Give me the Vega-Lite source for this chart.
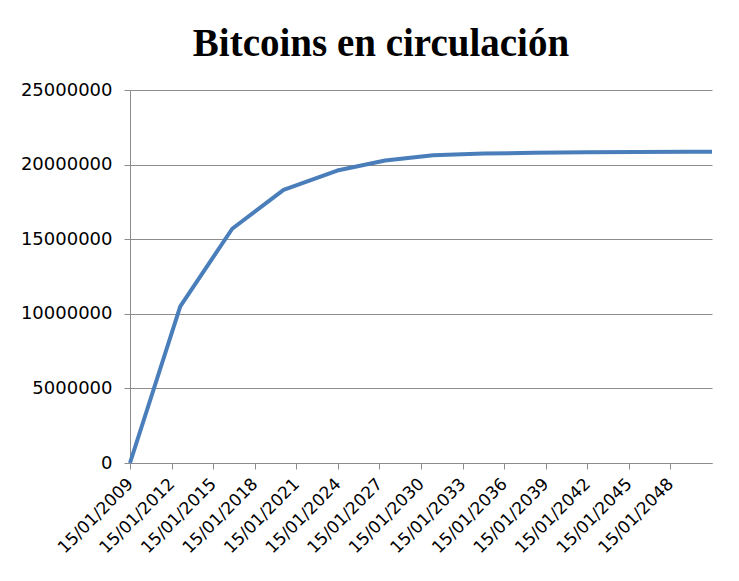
{
  "$schema": "https://vega.github.io/schema/vega-lite/v6.json",
  "width": 582,
  "height": 373,
  "autosize": "none",
  "padding": {"left": 130, "top": 90, "right": 27, "bottom": 118},
  "background": "white",
  "title": {
    "text": "Bitcoins en circulación",
    "font": "Liberation Serif",
    "fontSize": 39,
    "fontWeight": "bold",
    "color": "#000000",
    "anchor": "middle",
    "dx": -40,
    "offset": 17
  },
  "data": {
    "values": [
      {"fecha": "2009-01-15", "btc": 0},
      {"fecha": "2012-09-01", "btc": 10500000},
      {"fecha": "2016-06-01", "btc": 15700000},
      {"fecha": "2020-02-15", "btc": 18300000},
      {"fecha": "2024-01-01", "btc": 19600000},
      {"fecha": "2027-06-15", "btc": 20270000},
      {"fecha": "2030-12-01", "btc": 20620000},
      {"fecha": "2034-08-01", "btc": 20740000},
      {"fecha": "2038-04-01", "btc": 20790000},
      {"fecha": "2042-01-01", "btc": 20820000},
      {"fecha": "2045-09-01", "btc": 20840000},
      {"fecha": "2049-05-01", "btc": 20855000},
      {"fecha": "2051-01-15", "btc": 20860000}
    ]
  },
  "mark": {"type": "line", "color": "#4a7ebb", "strokeWidth": 4, "strokeJoin": "round"},
  "encoding": {
    "x": {
      "field": "fecha",
      "type": "temporal",
      "scale": {"domain": [{"year": 2009, "month": 1, "date": 15}, {"year": 2051, "month": 1, "date": 15}], "nice": false},
      "axis": {
        "title": null,
        "format": "%d/%m/%Y",
        "values": [
          {"year": 2009, "month": 1, "date": 15},
          {"year": 2012, "month": 1, "date": 15},
          {"year": 2015, "month": 1, "date": 15},
          {"year": 2018, "month": 1, "date": 15},
          {"year": 2021, "month": 1, "date": 15},
          {"year": 2024, "month": 1, "date": 15},
          {"year": 2027, "month": 1, "date": 15},
          {"year": 2030, "month": 1, "date": 15},
          {"year": 2033, "month": 1, "date": 15},
          {"year": 2036, "month": 1, "date": 15},
          {"year": 2039, "month": 1, "date": 15},
          {"year": 2042, "month": 1, "date": 15},
          {"year": 2045, "month": 1, "date": 15},
          {"year": 2048, "month": 1, "date": 15}
        ],
        "labelAngle": -45,
        "labelAlign": "right",
        "labelBaseline": "middle",
        "labelFont": "DejaVu Sans",
        "labelFontSize": 17,
        "labelColor": "#000000",
        "labelPadding": 12,
        "labelOverlap": false,
        "labelFlush": false,
        "grid": false,
        "domainColor": "#8c8c8c",
        "tickColor": "#8c8c8c",
        "tickSize": 6
      }
    },
    "y": {
      "field": "btc",
      "type": "quantitative",
      "scale": {"domain": [0, 25000000], "nice": false},
      "axis": {
        "title": null,
        "format": "d",
        "values": [0, 5000000, 10000000, 15000000, 20000000, 25000000],
        "labelFont": "DejaVu Sans",
        "labelFontSize": 18,
        "labelColor": "#000000",
        "labelPadding": 12,
        "grid": true,
        "gridColor": "#8c8c8c",
        "gridWidth": 1.2,
        "domainColor": "#8c8c8c",
        "tickColor": "#8c8c8c",
        "tickSize": 6
      }
    }
  },
  "config": {"view": {"stroke": null}}
}
